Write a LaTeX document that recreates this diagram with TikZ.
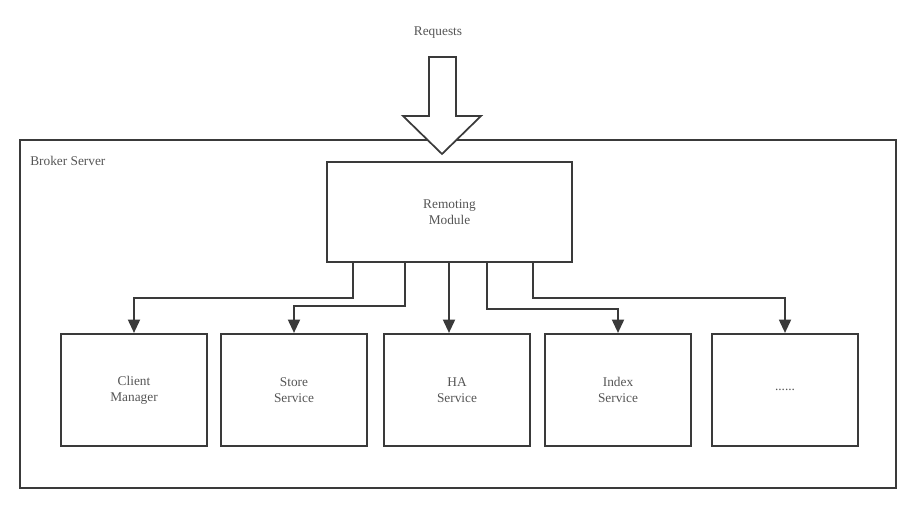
\documentclass[tikz,border=0pt]{standalone}
\usepackage{fontspec}
\setmainfont{Liberation Serif}
\usetikzlibrary{arrows.meta}
\definecolor{lc}{HTML}{3A3A3A}
\definecolor{tc}{HTML}{555555}
\begin{document}
\begin{tikzpicture}[x=0.75pt,y=-0.75pt,
  box/.style={draw=lc,line width=1.6pt,minimum width=109.5pt,minimum height=84pt,inner sep=0pt,
    font=\fontsize{10}{12}\selectfont,text=tc,align=center},
  conn/.style={draw=lc,line width=1.4pt,-{Triangle[length=10pt,width=9pt]}},
  lbl/.style={font=\fontsize{10}{12}\selectfont,text=tc,inner sep=0pt}]
\useasboundingbox (0,0) rectangle (916,506);
% outer box
\node[draw=lc,line width=1.6pt,minimum width=657pt,minimum height=261pt,inner sep=0pt,anchor=north west] (broker) at (19,139) {};
\node[lbl,anchor=north west] (brokerlbl) at (30,156) {Broker Server};
% requests
\node[lbl] (req) at (438,33) {Requests};
\draw[draw=lc,line width=1.3pt,fill=white,line join=miter]
  (429,57) -- (456,57) -- (456,116) -- (481,116) -- (442,154) -- (403,116) -- (429,116) -- cycle;
% remoting
\node[box,minimum width=183.75pt,minimum height=75pt] (rem) at (449.5,212) {Remoting\\Module};
% lower boxes
\node[box] (b1) at (134,390) {Client\\Manager};
\node[box] (b2) at (294,390) {Store\\Service};
\node[box] (b3) at (457,390) {HA\\Service};
\node[box] (b4) at (618,390) {Index\\Service};
\node[box] (b5) at (785,390) {......};
% connectors
\coordinate (s1) at (353,262); \coordinate (s2) at (405,262); \coordinate (s3) at (449,262);
\coordinate (s4) at (487,262); \coordinate (s5) at (533,262);
\draw[conn] (s1) -- (353,298) -- (134,298) -- (b1.north);
\draw[conn] (s2) -- (405,306) -- (294,306) -- (b2.north);
\draw[conn] (s3) -- (s3 |- b3.north);
\draw[conn] (s4) -- (487,309) -- (618,309) -- (b4.north);
\draw[conn] (s5) -- (533,298) -- (785,298) -- (b5.north);
\end{tikzpicture}
\end{document}
